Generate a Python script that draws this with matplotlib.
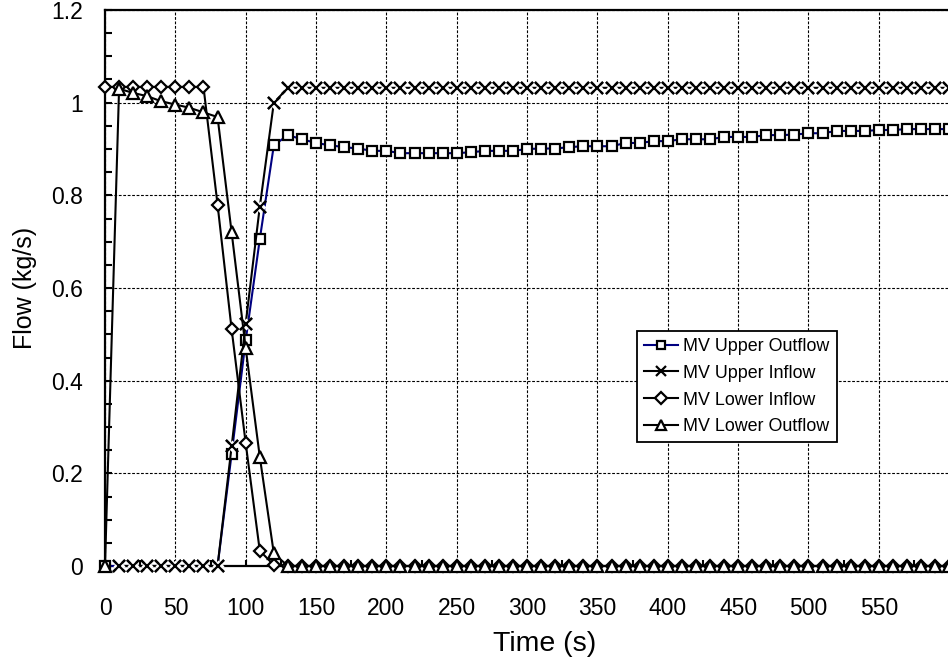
import matplotlib
matplotlib.use("Agg")
import matplotlib.pyplot as plt
from matplotlib.ticker import MultipleLocator

plt.rcParams['font.family'] = ['Liberation Sans', 'DejaVu Sans']

# ---- data ----
time = list(range(0, 610, 10))
time_upper_inflow = list(range(10, 610, 10))

upper_outflow = [0.0] * 9 + [
    0.242, 0.487, 0.705, 0.908,
    0.930, 0.921, 0.913, 0.908, 0.904, 0.901, 0.896, 0.896,
    0.891, 0.891, 0.891, 0.891, 0.891, 0.893, 0.896, 0.896, 0.896, 0.900,
    0.901, 0.901, 0.904, 0.906, 0.906, 0.906, 0.913, 0.913, 0.917, 0.917,
    0.921, 0.921, 0.921, 0.926, 0.926, 0.926, 0.930, 0.930, 0.931, 0.934,
    0.934, 0.939, 0.939, 0.939, 0.941, 0.941, 0.943, 0.943, 0.943, 0.943,
]
upper_inflow = [0.0] * 8 + [0.258, 0.523, 0.775, 1.0] + [1.032] * 48
lower_inflow = [1.034] * 8 + [0.78, 0.511, 0.265, 0.033, 0.002] + [0.0] * 48
lower_outflow = [0.0, 1.030, 1.021, 1.014, 1.003, 0.996, 0.989, 0.979, 0.969,
                 0.72, 0.470, 0.236, 0.027] + [0.0] * 48

labels = ["MV Upper Outflow", "MV Upper Inflow", "MV Lower Inflow", "MV Lower Outflow"]
x_ticks = [0, 50, 100, 150, 200, 250, 300, 350, 400, 450, 500, 550]
x_tick_labels = ["0", "50", "100", "150", "200", "250", "300", "350", "400", "450", "500", "550"]
y_ticks = [0, 0.2, 0.4, 0.6, 0.8, 1.0, 1.2]
y_tick_labels = ["0", "0.2", "0.4", "0.6", "0.8", "1", "1.2"]

W, H = 948, 661
fig = plt.figure(figsize=(W / 100, H / 100), dpi=100)
x_max = 625
left_px, top_px, bottom_px = 105, 10, 566
right_px = left_px + 1.407 * x_max
ax = fig.add_axes([left_px / W, (H - bottom_px) / H,
                   (right_px - left_px) / W, (bottom_px - top_px) / H])

mew = 1.6
lw = 1.5
x_ms = 9.2
ax.plot(time, upper_outflow, color='#000080', lw=lw, marker='s', ms=7.3,
        mfc='white', mec='black', mew=mew, clip_on=False,
        markevery=[0] + list(range(9, len(time))), label=labels[0], zorder=3)
# white backing under the X markers so the connecting line stops at each marker
ax.plot(time_upper_inflow, upper_inflow, linestyle='none', marker='D', ms=6.4,
        mfc='white', mec='none', clip_on=False, zorder=4.1)
ax.plot(time_upper_inflow, upper_inflow, color='black', lw=lw, marker='x', ms=x_ms,
        mec='black', mew=mew, clip_on=False, label=labels[1], zorder=4)
ax.plot(time, lower_inflow, color='black', lw=lw, marker='D', ms=6.6,
        mfc='white', mec='black', mew=mew, clip_on=False, label=labels[2], zorder=5)
ax.plot(time, lower_outflow, color='black', lw=lw, marker='^', ms=8,
        mfc='white', mec='black', mew=mew, clip_on=False, label=labels[3], zorder=6)
# redraw X markers above their white backing
ax.plot(time_upper_inflow, upper_inflow, linestyle='none', marker='x', ms=x_ms,
        mec='black', mew=mew, clip_on=False, zorder=4.2)

ax.set_xlim(0, x_max)
ax.set_ylim(0, 1.2)
ax.set_xticks(x_ticks)
ax.set_xticklabels(x_tick_labels)
ax.set_yticks(y_ticks)
ax.set_yticklabels(y_tick_labels)
ax.xaxis.set_minor_locator(MultipleLocator(25))
ax.yaxis.set_minor_locator(MultipleLocator(0.05))

ax.tick_params(axis='both', which='both', direction='in', width=1.5, labelsize=16.5,
               top=False, right=False)
ax.tick_params(axis='y', which='both', length=5, pad=16)
ax.tick_params(axis='x', which='both', length=4, pad=22)

ax.grid(True, which='major', color='black', linestyle=(0, (2.5, 1.5)), linewidth=0.8)
ax.set_axisbelow(True)

for side in ['left', 'top', 'bottom']:
    ax.spines[side].set_linewidth(1.6)
ax.spines['right'].set_visible(False)

ax.set_xlabel("Time (s)", fontsize=20.5, labelpad=8)
ax.set_ylabel("Flow (kg/s)", fontsize=18, labelpad=10)

leg_left = (636.7 - left_px) / (right_px - left_px)
leg_top = (bottom_px - 331) / (bottom_px - top_px)
leg = ax.legend(loc='upper left', bbox_to_anchor=(leg_left, leg_top), borderaxespad=0,
                fontsize=12.9, numpoints=1, handlelength=1.9, handletextpad=0.33,
                labelspacing=0.55, borderpad=0.38, fancybox=False, framealpha=1,
                edgecolor='black', markerscale=0.85)
leg.get_frame().set_linewidth(1.3)
leg.set_zorder(10)

fig.savefig("out.png", dpi=100)
